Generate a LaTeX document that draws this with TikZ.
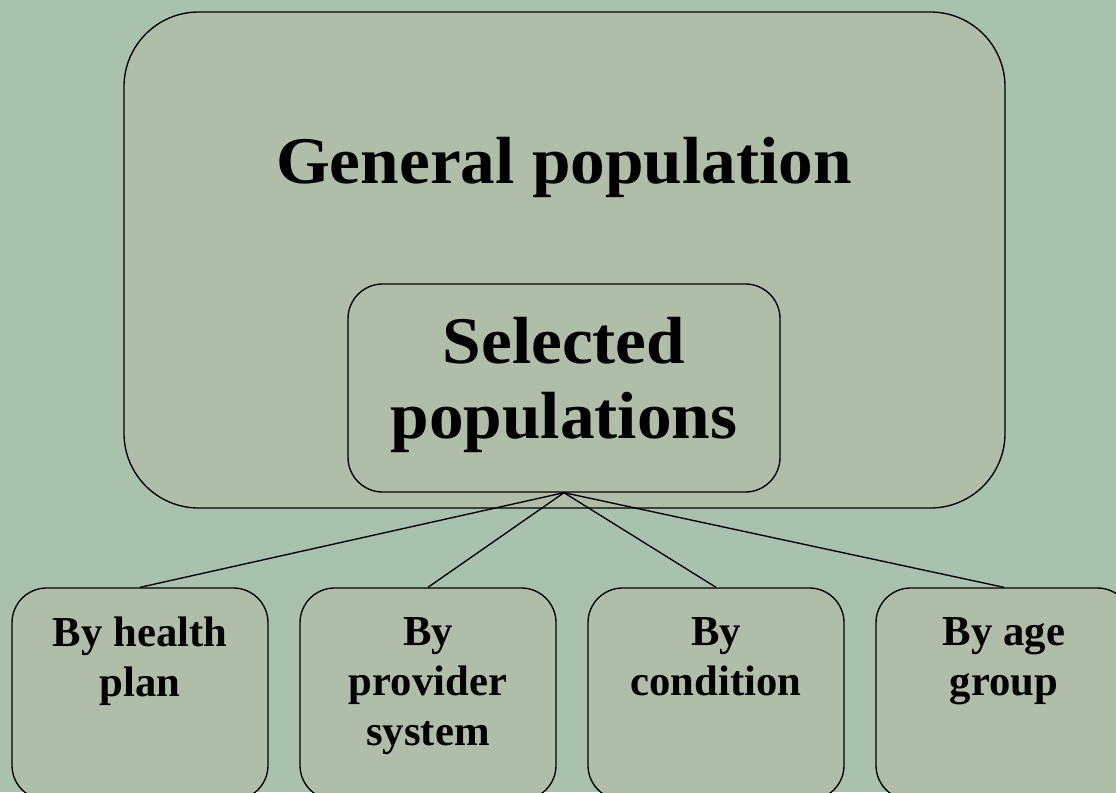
\documentclass[tikz,border=0pt]{standalone}
\usepackage{fontspec}
\setmainfont{Liberation Serif}
\definecolor{bg}{RGB}{168,194,174}
\definecolor{boxfill}{RGB}{176,189,168}
\begin{document}
\begin{tikzpicture}[x=0.75pt,y=-0.75pt,
  box/.style={draw=black, line width=1pt, fill=boxfill, inner sep=0pt},
  bigtext/.style={font=\fontsize{50}{56}\selectfont\bfseries\addfontfeature{FakeStretch=1.04}, align=center, inner sep=0pt},
  smalltext/.style={font=\fontsize{32}{37.5}\selectfont\bfseries, align=center, inner sep=0pt},
  link/.style={draw=black, line width=1pt}]
\useasboundingbox (0,0) rectangle (1116,792);
\clip (0,0) rectangle (1116,792);
\fill[bg] (0,0) rectangle (1116,792);
% general population box
\node[box, rounded corners=56pt, minimum width=660.75pt, minimum height=372pt] (gen) at (564.5,260) {};
\node[bigtext, anchor=base] (gentext) at (564,183) {General population};
% selected populations
\node[box, rounded corners=26pt, minimum width=324pt, minimum height=156pt] (sel) at (564,388) {};
\node[bigtext] (seltext) at (564,385) {Selected\\populations};
% bottom boxes
\node[box, rounded corners=26pt, minimum width=192pt, minimum height=159pt] (b1) at (140,694) {};
\node[box, rounded corners=26pt, minimum width=192pt, minimum height=159pt] (b2) at (428,694) {};
\node[box, rounded corners=26pt, minimum width=192pt, minimum height=159pt] (b3) at (716,694) {};
\node[box, rounded corners=26pt, minimum width=192pt, minimum height=159pt] (b4) at (1004,694) {};
\node[smalltext, anchor=north] (t1) at (140,617) {By health\\plan};
\node[smalltext, anchor=north] (t2) at (428,617) {By\\provider\\system};
\node[smalltext, anchor=north] (t3) at (716,617) {By\\condition};
\node[smalltext, anchor=north] (t4) at (1004,617) {By age\\group};
% connectors
\draw[link] (sel.south) -- (b1.north);
\draw[link] (sel.south) -- (b2.north);
\draw[link] (sel.south) -- (b3.north);
\draw[link] (sel.south) -- (b4.north);
\end{tikzpicture}
\end{document}
